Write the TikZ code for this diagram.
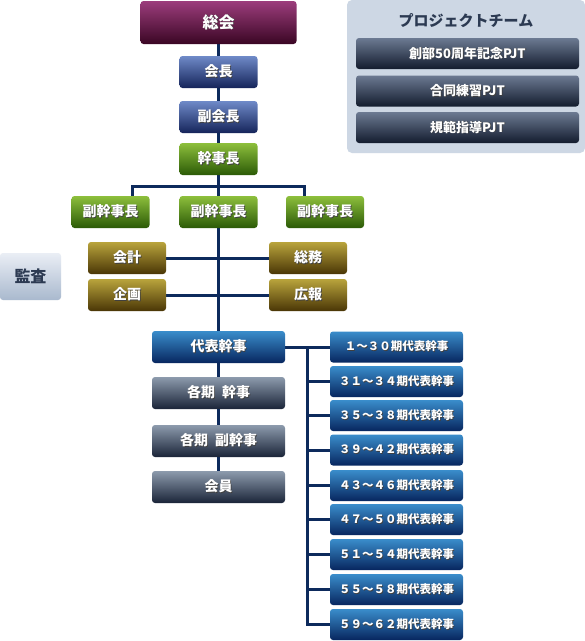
\documentclass[tikz,border=0pt]{standalone}
\usepackage{fontspec}
\setmainfont{Noto Sans CJK JP}
\usetikzlibrary{backgrounds}
\definecolor{maroonT}{HTML}{9C3D7C}\definecolor{maroonB}{HTML}{3A0624}
\definecolor{blueT}{HTML}{6F8AC8}\definecolor{blueB}{HTML}{15245A}
\definecolor{greenT}{HTML}{8DBF3C}\definecolor{greenB}{HTML}{2B5A06}
\definecolor{oliveT}{HTML}{B9A43C}\definecolor{oliveB}{HTML}{4A3606}
\definecolor{skyT}{HTML}{3A8DCB}\definecolor{skyB}{HTML}{07265F}
\definecolor{grayT}{HTML}{8D9BAD}\definecolor{grayB}{HTML}{1A2438}
\definecolor{projT}{HTML}{6C7A92}\definecolor{projB}{HTML}{131C2E}
\definecolor{kansaT}{HTML}{EAEEF5}\definecolor{kansaB}{HTML}{A9B9CE}
\definecolor{panel}{HTML}{CDD7E4}
\definecolor{darktext}{HTML}{2C3A52}
\definecolor{connc}{HTML}{0D2A5C}
\newcommand\shtxt[1]{\leavevmode\rlap{\kern0.8pt\raisebox{-0.8pt}{\textcolor{black!75}{#1}}}#1}
\tikzset{
  box/.style={rounded corners=3pt, text=white, font=\bfseries\fontsize{14}{16}\selectfont,
    inner sep=0pt, minimum height=32pt, minimum width=78pt},
  maroonbox/.style={box, top color=maroonT, bottom color=maroonB},
  bluebox/.style={box, top color=blueT, bottom color=blueB},
  greenbox/.style={box, top color=greenT, bottom color=greenB},
  olivebox/.style={box, top color=oliveT, bottom color=oliveB},
  skybox/.style={box, top color=skyT, bottom color=skyB, minimum width=133pt},
  periodbox/.style={skybox, minimum height=31pt, font=\bfseries\fontsize{11.5}{13}\selectfont},
  graybox/.style={box, top color=grayT, bottom color=grayB, minimum width=133pt},
  projbox/.style={box, top color=projT, bottom color=projB, minimum width=223pt, minimum height=31pt, font=\bfseries\fontsize{13}{15}\selectfont},
  conn/.style={draw=connc, line width=3pt},
}
\begin{document}
\begin{tikzpicture}[x=1pt,y=-1pt]
\useasboundingbox (0,0) rectangle (585,641);
% top chain
\node[maroonbox, minimum width=156pt, minimum height=43pt, font=\bfseries\fontsize{16}{18}\selectfont] (soukai) at (218.5,22.5) {\shtxt{総会}};
\node[bluebox] (kaicho) at (218.5,72) {\shtxt{会長}};
\node[bluebox] (fukukaicho) at (218.5,117) {\shtxt{副会長}};
\node[greenbox] (kanjicho) at (218.5,159) {\shtxt{幹事長}};
\node[greenbox] (v1) at (110.5,212) {\shtxt{副幹事長}};
\node[greenbox] (v2) at (218.5,212) {\shtxt{副幹事長}};
\node[greenbox] (v3) at (325,212) {\shtxt{副幹事長}};
\node[olivebox] (kaikei) at (127,258) {\shtxt{会計}};
\node[olivebox] (soumu) at (308,258) {\shtxt{総務}};
\node[olivebox] (kikaku) at (127,295) {\shtxt{企画}};
\node[olivebox] (kouhou) at (308,295) {\shtxt{広報}};
\node[box, top color=kansaT, bottom color=kansaB, text=darktext, minimum width=61pt, minimum height=47pt, font=\bfseries\fontsize{16}{18}\selectfont] (kansa) at (30.5,276.5) {監査};
\node[skybox] (daihyo) at (218.5,347) {\shtxt{代表幹事}};
\node[graybox] (kaki1) at (218.5,393) {\shtxt{各期\hspace{0.5em}幹事}};
\node[graybox] (kaki2) at (218.5,441) {\shtxt{各期\hspace{0.5em}副幹事}};
\node[graybox] (kaiin) at (218.5,487) {\shtxt{会員}};
% periods
\node[periodbox] (p1) at (396.5,347) {\shtxt{１～３０期代表幹事}};
\node[periodbox] (p2) at (396.5,381.5) {\shtxt{３１～３４期代表幹事}};
\node[periodbox] (p3) at (396.5,415.5) {\shtxt{３５～３８期代表幹事}};
\node[periodbox] (p4) at (396.5,450) {\shtxt{３９～４２期代表幹事}};
\node[periodbox] (p5) at (396.5,485.5) {\shtxt{４３～４６期代表幹事}};
\node[periodbox] (p6) at (396.5,519.5) {\shtxt{４７～５０期代表幹事}};
\node[periodbox] (p7) at (396.5,554.5) {\shtxt{５１～５４期代表幹事}};
\node[periodbox] (p8) at (396.5,589.5) {\shtxt{５５～５８期代表幹事}};
\node[periodbox] (p9) at (396.5,624.5) {\shtxt{５９～６２期代表幹事}};
% project team
\node[fill=panel, rounded corners=5pt, minimum width=238pt, minimum height=153pt, inner sep=0pt] (panel) at (466,76.5) {};
\node[text=darktext, font=\bfseries\fontsize{15}{17}\selectfont] (ptitle) at (466,21) {プロジェクトチーム};
\node[projbox] (pj1) at (467.5,53.5) {\shtxt{創部50周年記念PJT}};
\node[projbox] (pj2) at (467.5,91) {\shtxt{合同練習PJT}};
\node[projbox] (pj3) at (467.5,127.5) {\shtxt{規範指導PJT}};
% connectors
\coordinate (bl) at (132,186.5);
\coordinate (br) at (304,186.5);
\coordinate (rv) at (307,347);
\begin{pgfonlayer}{background}
\fill[white] (0,0) rectangle (585,641);
\draw[conn] (soukai.south) -- (daihyo.north);
\draw[conn] (daihyo.south) -- (kaiin.north);
\draw[conn] (bl |- v1.north) -- (bl) -- (br) -- (br |- v3.north);
\draw[conn] (kaikei.east) -- (soumu.west);
\draw[conn] (kikaku.east) -- (kouhou.west);
\draw[conn] (daihyo.east) -- (p1.west);
\draw[conn, line cap=rect] (rv) -- (rv |- p9.west);
\foreach \i in {2,...,9} {\draw[conn] (rv |- p\i.west) -- (p\i.west);}
\end{pgfonlayer}
\end{tikzpicture}
\end{document}
